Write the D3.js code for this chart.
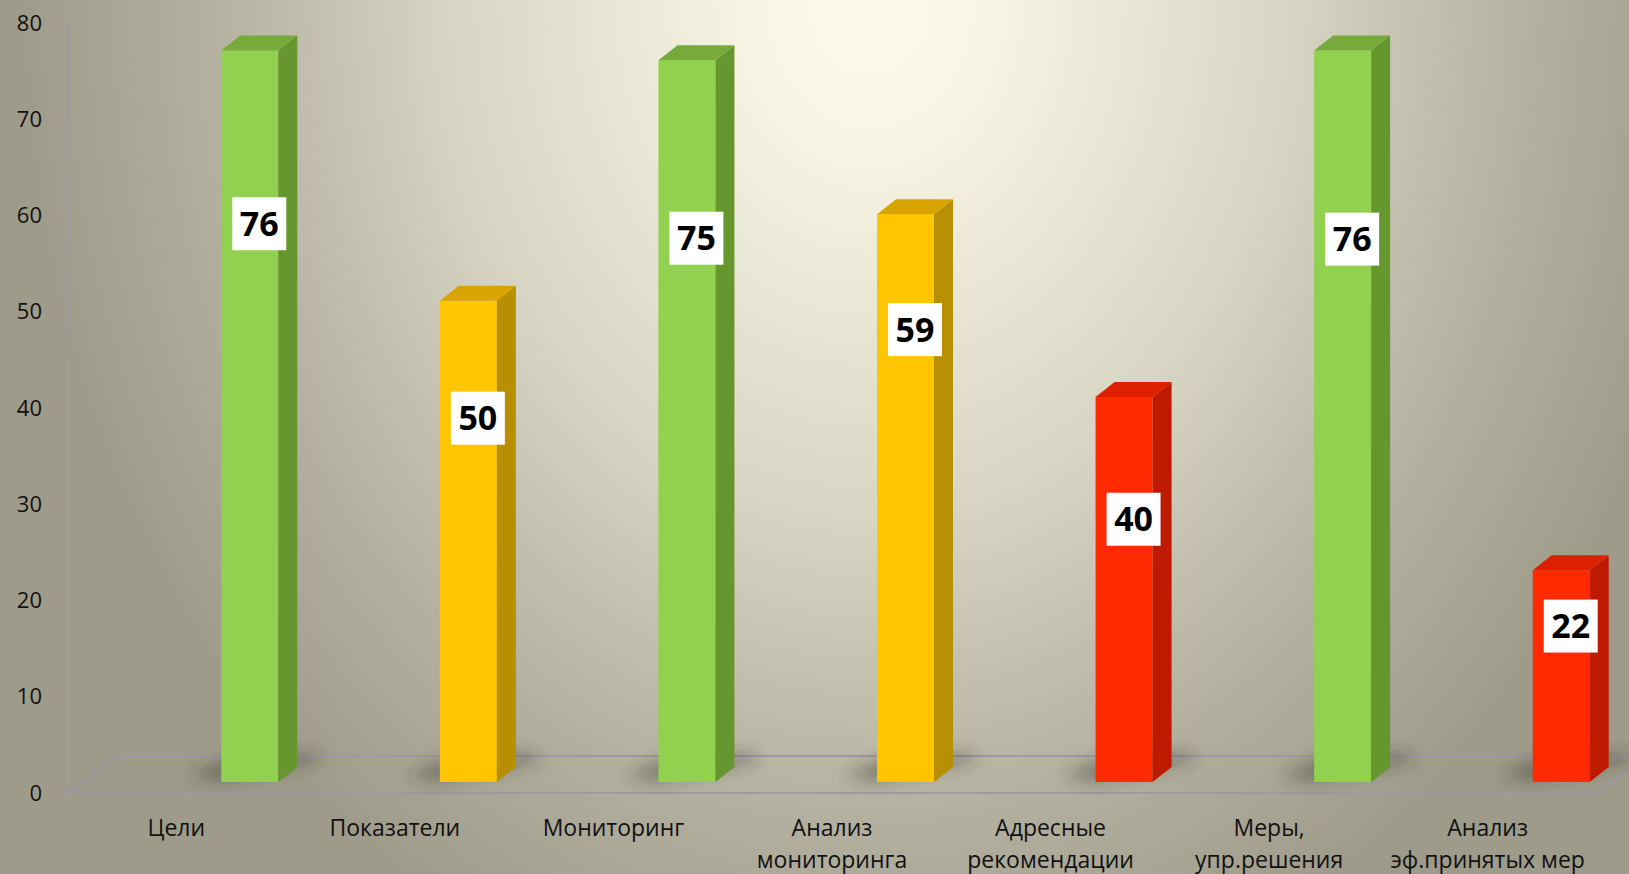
<!DOCTYPE html>
<html>
<head>
<meta charset="utf-8">
<script src="https://d3js.org/d3.v7.min.js"></script>
<style>
  body { margin: 0; overflow: hidden; }
  svg { display: block; }
</style>
</head>
<body>
<svg id="chart" width="1629" height="874"></svg>
<script>
// chart data
var categories = ["Цели", "Показатели", "Мониторинг", "Анализ\nмониторинга",
                  "Адресные\nрекомендации", "Меры,\nупр.решения", "Анализ\nэф.принятых мер"];
var values = [76, 50, 75, 59, 40, 76, 22];
// level (in axis units) where each value label sits on its bar
var labelAt = [58, 37.8, 56.5, 47, 27.3, 56.4, 16.2];
var yTicks = [0, 10, 20, 30, 40, 50, 60, 70, 80];

var svg = d3.select('#chart');
var W = 1629, H = 874;

var x = d3.scaleBand().domain(categories).range([67, 1597]);
var y = d3.scaleLinear().domain([0, 80]).range([793, 23]);

// 3d look
var floorDx = 50, floorDy = -37;   // floor depth
var barDy = -11;                   // where bars stand on the floor
var sideDx = 19, sideDy = -15;     // bar depth
var barW = 57, barOff = 45;

var face = d3.scaleThreshold().domain([45, 70]).range(['#ff2a00', '#ffc600', '#92d050']);
var side = d3.scaleThreshold().domain([45, 70]).range(['#be1a00', '#b88f00', '#66962e']);
var top_ = d3.scaleThreshold().domain([45, 70]).range(['#dc2000', '#d9a400', '#77aa3a']);

var defs = svg.append('defs');
var grad = defs.append('radialGradient')
    .attr('id', 'bg')
    .attr('gradientUnits', 'userSpaceOnUse')
    .attr('cx', 0).attr('cy', 0).attr('r', 1)
    .attr('gradientTransform', 'translate(870,0) scale(850,1050)');
[[0, '#fdfaec'], [0.12, '#f9f6e6'], [0.3, '#e9e6d6'], [0.5, '#d7d4c4'],
 [0.65, '#c3c0b0'], [0.8, '#b1ae9e'], [1, '#9e9b8b']].forEach(function(s) {
    grad.append('stop').attr('offset', s[0]).attr('stop-color', s[1]);
});

defs.append('filter').attr('id', 'blur')
    .attr('x', '-50%').attr('y', '-50%').attr('width', '200%').attr('height', '200%')
  .append('feGaussianBlur').attr('stdDeviation', 8);

svg.append('rect').attr('width', W).attr('height', H).attr('fill', 'url(#bg)');

// floor
var fx0 = x.range()[0], fx1 = x.range()[1], fy = y(0);
svg.append('path')
    .attr('d', 'M' + fx0 + ',' + fy + 'L' + (fx0 + floorDx) + ',' + (fy + floorDy) +
               'L' + (fx1 + floorDx) + ',' + (fy + floorDy) + 'L' + fx1 + ',' + fy + 'Z')
    .attr('fill', 'none')
    .attr('stroke', '#9c9aa2')
    .attr('stroke-width', 2);

// y axis
var yAxis = d3.axisLeft(y).tickValues(yTicks).tickSize(0).tickPadding(25);
var ga = svg.append('g').attr('transform', 'translate(67,0)').call(yAxis);
ga.select('.domain').attr('stroke', '#9c9aa2').attr('stroke-width', 2);
ga.selectAll('text')
    .attr('font-family', 'Open Sans, sans-serif')
    .attr('font-size', 22)
    .attr('fill', '#111');

// bars
var bars = svg.selectAll('.bar')
    .data(values)
    .enter().append('g')
    .attr('class', 'bar');

function bx(d, i) { return x(categories[i]) + x.bandwidth() / 2 + barOff; }
function by(v) { return y(v) + barDy; }

bars.append('path')
    .attr('filter', 'url(#blur)')
    .attr('fill', 'rgba(50,48,38,0.42)')
    .attr('d', function(d, i) {
        var l = bx(d, i), b = by(0);
        return 'M' + (l - 34) + ',' + (b - 6) + 'L' + l + ',' + b +
               'L' + (l + barW + sideDx + 24) + ',' + (b + sideDy - 6) +
               'L' + (l + barW + sideDx + 18) + ',' + (b + sideDy - 14) +
               'L' + (l + 8) + ',' + (b - 24) + 'Z';
    });

bars.append('rect')
    .attr('x', bx)
    .attr('y', function(d) { return by(d); })
    .attr('width', barW)
    .attr('height', function(d) { return by(0) - by(d); })
    .attr('fill', function(d) { return face(d); });

bars.append('path')
    .attr('fill', function(d) { return side(d); })
    .attr('d', function(d, i) {
        var r = bx(d, i) + barW, t = by(d), b = by(0);
        return 'M' + r + ',' + t + 'L' + (r + sideDx) + ',' + (t + sideDy) +
               'L' + (r + sideDx) + ',' + (b + sideDy) + 'L' + r + ',' + b + 'Z';
    });

bars.append('path')
    .attr('fill', function(d) { return top_(d); })
    .attr('d', function(d, i) {
        var l = bx(d, i), t = by(d);
        return 'M' + l + ',' + t + 'L' + (l + sideDx) + ',' + (t + sideDy) +
               'L' + (l + barW + sideDx) + ',' + (t + sideDy) + 'L' + (l + barW) + ',' + t + 'Z';
    });

// value labels
var lab = bars.append('g')
    .attr('transform', function(d, i) {
        return 'translate(' + (bx(d, i) + (barW + sideDx) / 2) + ',' + by(labelAt[i]) + ')';
    });
lab.append('rect')
    .attr('x', -27).attr('y', -26.5)
    .attr('width', 54).attr('height', 53)
    .attr('fill', '#fff');
lab.append('text')
    .attr('text-anchor', 'middle')
    .attr('dy', '0.36em')
    .attr('font-family', 'Open Sans, sans-serif')
    .attr('font-weight', 'bold')
    .attr('font-size', 34)
    .attr('fill', '#000')
    .text(function(d) { return d; });

// category labels
var cat = svg.selectAll('.cat')
    .data(categories)
    .enter().append('text')
    .attr('class', 'cat')
    .attr('text-anchor', 'middle')
    .attr('font-family', 'Open Sans, sans-serif')
    .attr('font-size', 23)
    .attr('fill', '#111')
    .attr('transform', function(d) { return 'translate(' + (x(d) + x.bandwidth() / 2) + ',836)'; });

cat.selectAll('tspan')
    .data(function(d) { return d.split('\n'); })
    .enter().append('tspan')
    .attr('x', 0)
    .attr('dy', function(d, i) { return i ? 32 : 0; })
    .text(function(d) { return d; });
</script>
</body>
</html>
